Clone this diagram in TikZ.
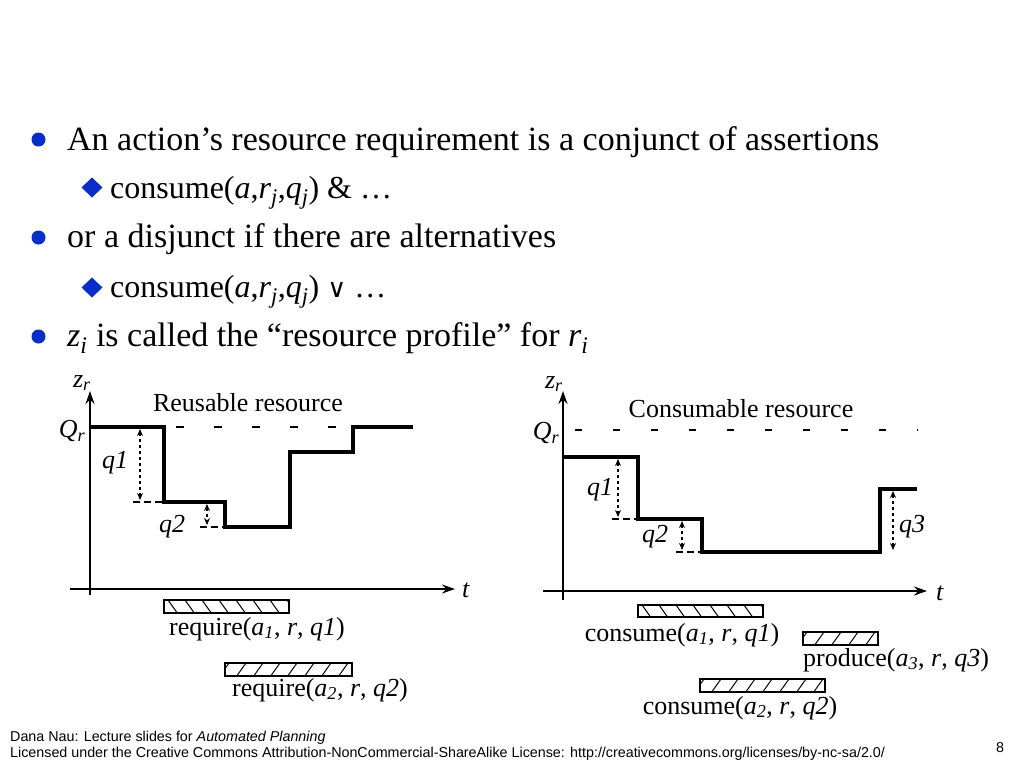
\documentclass[tikz,border=0pt]{standalone}
\usepackage{fontspec}
\setmainfont{Liberation Serif}
\newfontfamily\footfont{Liberation Sans}
\newfontfamily\symfont{DejaVu Sans}
\usetikzlibrary{arrows.meta}
\definecolor{bulletblue}{RGB}{8,45,200}
\begin{document}
\begin{tikzpicture}[x=1pt,y=-1pt,>={Stealth[length=13pt,width=9pt]},
	prof/.style={line width=4pt},
	ax/.style={line width=2.5pt,->},
	qarr/.style={dashed,line width=1.5pt,{Stealth[length=7pt,width=6pt]}-{Stealth[length=7pt,width=6pt]}},
	qtick/.style={line width=1.5pt,dash pattern=on 7pt off 4pt},
	lvl/.style={line width=2pt,dash pattern=on 8pt off 30pt},
	barbox/.style={draw,line width=2pt},
	big/.style={anchor=base west,inner sep=0pt,font=\fontsize{34}{38}\selectfont},
	small/.style={anchor=base west,inner sep=0pt,font=\fontsize{32}{36}\selectfont},
	lab/.style={inner sep=0pt,font=\fontsize{26}{28}\selectfont},
	foot/.style={anchor=base west,inner sep=0pt,font=\footfont\fontsize{14.3}{16}\selectfont}]
	\useasboundingbox[fill=white] (0,0) rectangle (1024,768);
	% bullet text
	\fill[bulletblue] (38.5,139.5) circle(7) (38.5,237.5) circle(7) (38.5,336.5) circle(7);
	\fill[bulletblue] (92,177.5)--(102.5,187.5)--(92,197.5)--(81.5,187.5)--cycle
	(92,277.5)--(102.5,287.5)--(92,297.5)--(81.5,287.5)--cycle;
	\node[big] (b1) at (67,150) {An action’s resource requirement is a conjunct of assertions};
	\node[small] (b2) at (110,198) {consume(\textit{a},\textit{r}\textsubscript{\textit{j}},\textit{q}\textsubscript{\textit{j}}) \& …};
	\node[big] (b3) at (67,247) {or a disjunct if there are alternatives};
	\node[small] (b4) at (110,297) {consume(\textit{a},\textit{r}\textsubscript{\textit{j}},\textit{q}\textsubscript{\textit{j}}) {\symfont\fontsize{26}{30}\selectfont ∨} …};
	\node[big] (b5) at (67,346) {\textit{z}\textsubscript{\textit{i}} is called the “resource profile” for \textit{r}\textsubscript{\textit{i}}};
	% reusable resource
	\draw[ax] (90,595)--(90,391);
	\draw[ax] (70,589)--(455,589);
	\node[lab] (zl) at (82,383) {\textit{z}\textsubscript{\textit{r}}};
	\node[lab] (ql) at (72,431) {\textit{Q}\textsubscript{\textit{r}}};
	\node[lab] (tl) at (466,590) {\textit{t}};
	\node[lab] (rl) at (248,403) {Reusable resource};
	\draw[lvl] (176,427)--(340,427);
	\draw[prof] (90,427)--(164,427)--(164,502)--(225,502)--(225,527)--(290,527)--(290,452)--(353,452)--(353,427)--(413,427);
	\draw[qarr] (140,429)--(140,500);
	\draw[qtick] (133,502)--(162,502);
	\draw[qarr] (207,504)--(207,525);
	\draw[qtick] (200,527)--(223,527);
	\node[lab] (q1a) at (115,463) {\textit{q1}};
	\node[lab] (q2a) at (172,527) {\textit{q2}};
	% consumable resource
	\draw[ax] (563,600)--(563,391);
	\draw[ax] (543,591)--(927,591);
	\node[lab] (zr) at (554,384) {\textit{z}\textsubscript{\textit{r}}};
	\node[lab] (qr) at (546,433) {\textit{Q}\textsubscript{\textit{r}}};
	\node[lab] (tr) at (940,593) {\textit{t}};
	\node[lab] (cl) at (741,409) {Consumable resource};
	\draw[lvl,dash pattern=on 7pt off 31pt] (575,430)--(918,430);
	\draw[prof] (563,457)--(638,457)--(638,519)--(702,519)--(702,552)--(880,552)--(880,489)--(917,489);
	\draw[qarr] (618,459)--(618,517);
	\draw[qtick] (612,519)--(636,519);
	\draw[qarr] (682,521)--(682,550);
	\draw[qtick] (676,552)--(700,552);
	\draw[qarr] (893,550)--(893,491);
	\node[lab] (q1b) at (600,490) {\textit{q1}};
	\node[lab] (q2b) at (655,537) {\textit{q2}};
	\node[lab] (q3b) at (912,527) {\textit{q3}};
	% bars
	\foreach \xa/\ya/\xb/\yb/\hs in {164/600/289/613/1,225/663/352/676/-1,638/605/763/617/1,803/632/878/645/-1,700/679/825/692/-1}{
		\begin{scope}
			\clip (\xa,\ya) rectangle (\xb,\yb);
			\foreach \k in {0,...,8}
			\draw[line width=1pt] ({\xa+4+\k*17},\ya)--++({\hs*10},14);
		\end{scope}
		\draw[barbox] (\xa,\ya) rectangle (\xb,\yb);
	}
	\node[lab] (r1) at (257,629) {require(\textit{a}\textsubscript{\textit{1}}, \textit{r}, \textit{q1})};
	\node[lab] (r2) at (320,690) {require(\textit{a}\textsubscript{\textit{2}}, \textit{r}, \textit{q2})};
	\node[lab] (c1) at (682,635) {consume(\textit{a}\textsubscript{\textit{1}}, \textit{r}, \textit{q1})};
	\node[lab,anchor=west] (p3) at (803,660) {produce(\textit{a}\textsubscript{\textit{3}}, \textit{r}, \textit{q3})};
	\node[lab] (c2) at (740,708) {consume(\textit{a}\textsubscript{\textit{2}}, \textit{r}, \textit{q2})};
	% footer
	\node[foot] (f1) at (10,741) {Dana Nau: Lecture slides for \textit{Automated Planning}};
	\node[foot] (f2) at (10,757) {Licensed under the Creative Commons Attribution-NonCommercial-ShareAlike License: http://creativecommons.org/licenses/by-nc-sa/2.0/};
	\node[foot] (pg) at (996,752) {8};
\end{tikzpicture}
\end{document}
